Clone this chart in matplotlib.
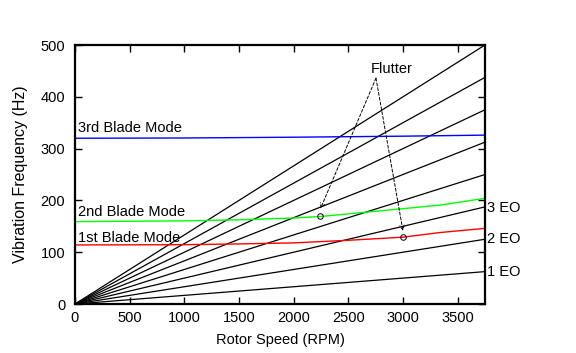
import matplotlib
matplotlib.use("Agg")
import matplotlib.pyplot as plt
import numpy as np

plt.rcParams['font.family'] = ['Liberation Sans', 'DejaVu Sans']

# Engine-order lines (Hz = k * RPM / 60)
engine_orders = [1, 2, 3, 4, 5, 6, 7, 8]
eo_rpm = [0, 3750]
eo_labels = ["1 EO", "2 EO", "3 EO"]

# Blade modes
mode1_rpm = [0, 1000, 1500, 2000, 2500, 3000, 3340, 3750]
mode1_hz = [114, 114.5, 116, 118, 123, 129, 138, 146]
mode2_rpm = [0, 1000, 1500, 2000, 2250, 2600, 3000, 3340, 3750]
mode2_hz = [159, 160.5, 162.5, 166, 169, 176, 184, 191, 204]
mode3_rpm = [0, 1000, 2000, 3000, 3750]
mode3_hz = [320, 320.5, 322, 324, 326]

# Flutter points
flutter_rpm = [2245, 3000]
flutter_hz = [169, 129]
arrow_tip_hz = [184, 141]
flutter_text = (2896, 454)
arrow_start = (2753, 436)

fig = plt.figure(figsize=(5.76, 3.53), dpi=100)
ax = fig.add_axes([0.1302, 0.1388, 0.842 - 0.1302, 0.8725 - 0.1388])

for k in engine_orders:
    ax.plot(eo_rpm, [k * r / 60 for r in eo_rpm], color='black', lw=0.9)

ax.plot(mode1_rpm, mode1_hz, color='#ff0000', lw=1.0)
ax.plot(mode2_rpm, mode2_hz, color='#00ff00', lw=1.0)
ax.plot(mode3_rpm, mode3_hz, color='#0000ff', lw=1.0)

ax.plot(flutter_rpm, flutter_hz, linestyle='none', marker='o', ms=4,
        mfc='none', mec='black', mew=0.7)

for r, h in zip(flutter_rpm, arrow_tip_hz):
    ax.annotate('', xy=(r, h), xytext=arrow_start,
                arrowprops=dict(arrowstyle='->', linestyle=(0, (3, 2)),
                                lw=0.7, color='black', shrinkA=0, shrinkB=0,
                                mutation_scale=8))

fs = 10.5
ax.text(flutter_text[0], flutter_text[1], "Flutter", ha='center', va='center', fontsize=fs)
ax.text(30, 340, "3rd Blade Mode", ha='left', va='center', fontsize=fs)
ax.text(30, 177, "2nd Blade Mode", ha='left', va='center', fontsize=fs)
ax.text(30, 127, "1st Blade Mode", ha='left', va='center', fontsize=fs)

for k, lab in zip([1, 2, 3], eo_labels):
    ax.text(3770, k * 3750 / 60 - (2 if k == 3 else 0), lab, ha='left', va='center',
            fontsize=fs, clip_on=False)

ax.set_xlim(0, 3750)
ax.set_ylim(0, 500)
ax.set_xticks(np.arange(0, 3501, 500))
ax.set_yticks(np.arange(0, 501, 100))
ax.tick_params(direction='in', top=True, right=True, length=5, width=1, labelsize=fs)
ax.tick_params(axis='x', pad=5)
ax.tick_params(axis='y', pad=7)
for s in ax.spines.values():
    s.set_linewidth(1.6)

ax.set_xlabel("Rotor Speed (RPM)", fontsize=fs, labelpad=6)
ax.set_ylabel("Vibration Frequency (Hz)", fontsize=11.5, labelpad=9)

fig.savefig("out.png", dpi=100)
